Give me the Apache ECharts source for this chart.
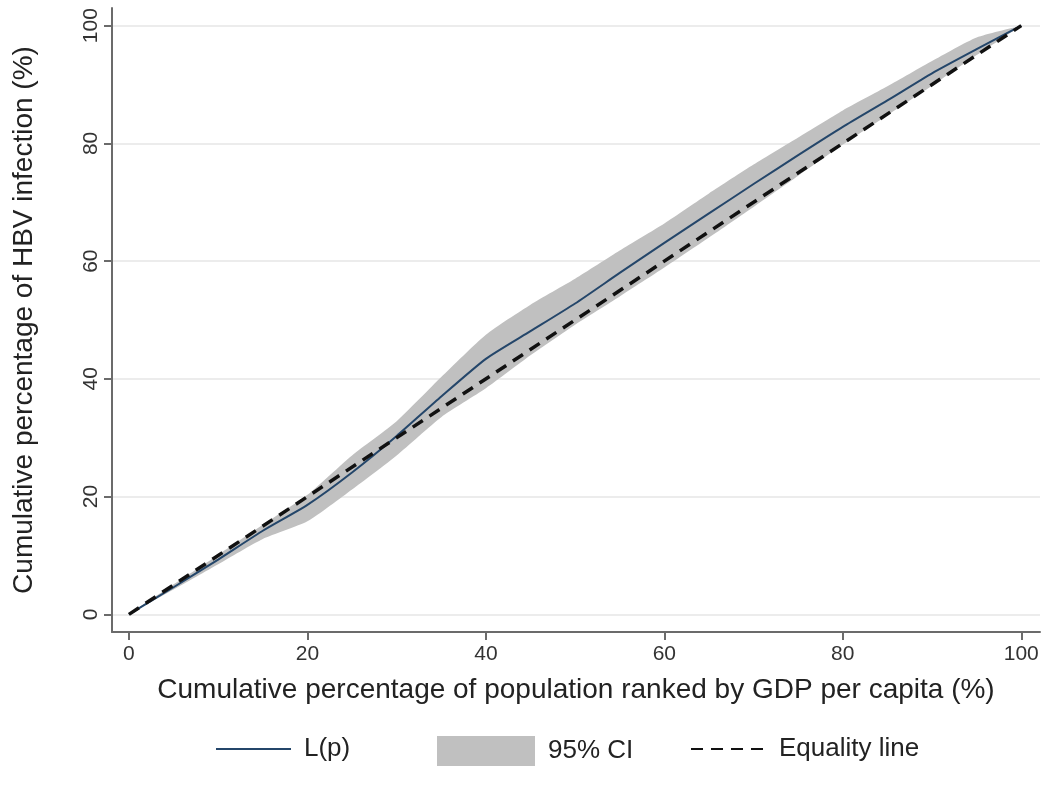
<!DOCTYPE html>
<html>
<head>
<meta charset="utf-8">
<script src="https://cdn.jsdelivr.net/npm/echarts@6/dist/echarts.min.js"></script>
<style>
  html, body { margin: 0; padding: 0; background: #fff; }
  #chart { width: 1043px; height: 798px; }
</style>
</head>
<body>
<div id="chart"></div>
<script>
// 数据: 按人均GDP排序的人口累计百分比
const popPct = [0, 5, 10, 15, 20, 25, 30, 35, 40, 45, 50, 55, 60, 65, 70, 75, 80, 85, 90, 95, 100];
// 集中曲线 L(p)
const lorenz = [0, 4.6, 9.3, 14.2, 18.6, 24.1, 30.3, 37.0, 43.4, 48.1, 52.8, 58.0, 63.1, 68.1, 73.1, 78.0, 82.8, 87.3, 91.9, 96.0, 100];
// 95% 置信区间
const ciLow = [0, 4.2, 8.5, 12.8, 15.8, 21.2, 27.0, 33.5, 38.4, 44.0, 49.2, 54.0, 58.9, 64.0, 69.2, 74.5, 79.8, 84.8, 89.8, 95.0, 100];
const ciHigh = [0, 5.1, 10.1, 15.2, 20.3, 27.0, 32.8, 40.3, 47.5, 52.6, 57.0, 61.8, 66.4, 71.5, 76.4, 81.0, 85.6, 89.7, 94.0, 98.0, 100];
// 绝对平等线
const equalityX = [0, 100];
const equalityY = [0, 100];
const tickValues = [0, 20, 40, 60, 80, 100];

const FONT = 'Liberation Sans';
const axisColor = '#6b6b6b';

const chart = echarts.init(document.getElementById('chart'), null, { renderer: 'canvas' });

const legendBase = {
  orient: 'horizontal',
  top: 731,
  itemHeight: 30,
  itemWidth: 75,
  selectedMode: false,
  itemStyle: { opacity: 0 },
  textStyle: { fontFamily: FONT, fontSize: 26, color: '#222', padding: [0, 0, 0, 8] }
};

/**
 * 置信区间带: 上界正向 + 下界反向 组成多边形
 */
function renderBand(params, api) {
  if (params.dataIndexInside !== 0) return null;
  const upper = popPct.map((p, i) => api.coord([p, ciHigh[i]]));
  const lower = popPct.map((p, i) => api.coord([p, ciLow[i]])).reverse();
  return {
    type: 'polygon',
    shape: { points: upper.concat(lower), smooth: 0.2 },
    style: { fill: '#c0c0c0' },
    silent: true
  };
}

chart.setOption({
  animation: false,
  backgroundColor: '#fff',
  grid: { left: 112, right: 3, top: 8, bottom: 166 },
  legend: [
    Object.assign({}, legendBase, { left: 210, data: ['L(p)'] }),
    Object.assign({}, legendBase, { left: 432, itemWidth: 98, itemStyle: {}, data: [{ name: '95% CI', icon: 'rect' }] }),
    Object.assign({}, legendBase, { left: 685, data: ['Equality line'] })
  ],
  xAxis: {
    type: 'value',
    min: -1.9,
    max: 102.1,
    name: 'Cumulative percentage of population ranked by GDP per capita (%)',
    nameLocation: 'middle',
    nameGap: 44,
    nameTextStyle: { fontFamily: FONT, fontSize: 28, color: '#222' },
    axisLine: { show: true, onZero: false, lineStyle: { color: axisColor, width: 2 } },
    axisTick: { show: true, length: 8, customValues: tickValues, lineStyle: { color: axisColor, width: 2 } },
    axisLabel: { customValues: tickValues, fontFamily: FONT, fontSize: 21, color: '#333', margin: 12 },
    splitLine: { show: false }
  },
  yAxis: {
    type: 'value',
    min: -3,
    max: 103,
    name: 'Cumulative percentage of HBV infection (%)',
    nameLocation: 'middle',
    nameGap: 74,
    nameTextStyle: { fontFamily: FONT, fontSize: 28, color: '#222' },
    axisLine: { show: true, onZero: false, lineStyle: { color: axisColor, width: 2 } },
    axisTick: { show: true, length: 8, customValues: tickValues, lineStyle: { color: axisColor, width: 2 } },
    axisLabel: { customValues: tickValues, rotate: 90, fontFamily: FONT, fontSize: 21, color: '#333', margin: 10 },
    splitLine: { show: true, lineStyle: { color: '#ececec', width: 2 } }
  },
  series: [
    {
      name: '95% CI',
      type: 'custom',
      silent: true,
      itemStyle: { color: '#c0c0c0' },
      renderItem: renderBand,
      encode: { x: 0, y: [1, 2] },
      data: popPct.map((p, i) => [p, ciLow[i], ciHigh[i]])
    },
    {
      name: 'L(p)',
      type: 'line',
      symbol: 'none',
      smooth: 0.2,
      itemStyle: { color: '#24466a' },
      lineStyle: { color: '#24466a', width: 2 },
      data: popPct.map((p, i) => [p, lorenz[i]])
    },
    {
      name: 'Equality line',
      type: 'line',
      symbol: 'none',
      itemStyle: { color: '#111' },
      lineStyle: { color: '#111', width: 3.5, type: [12, 8] },
      data: equalityX.map((x, i) => [x, equalityY[i]])
    }
  ]
});
</script>
</body>
</html>
